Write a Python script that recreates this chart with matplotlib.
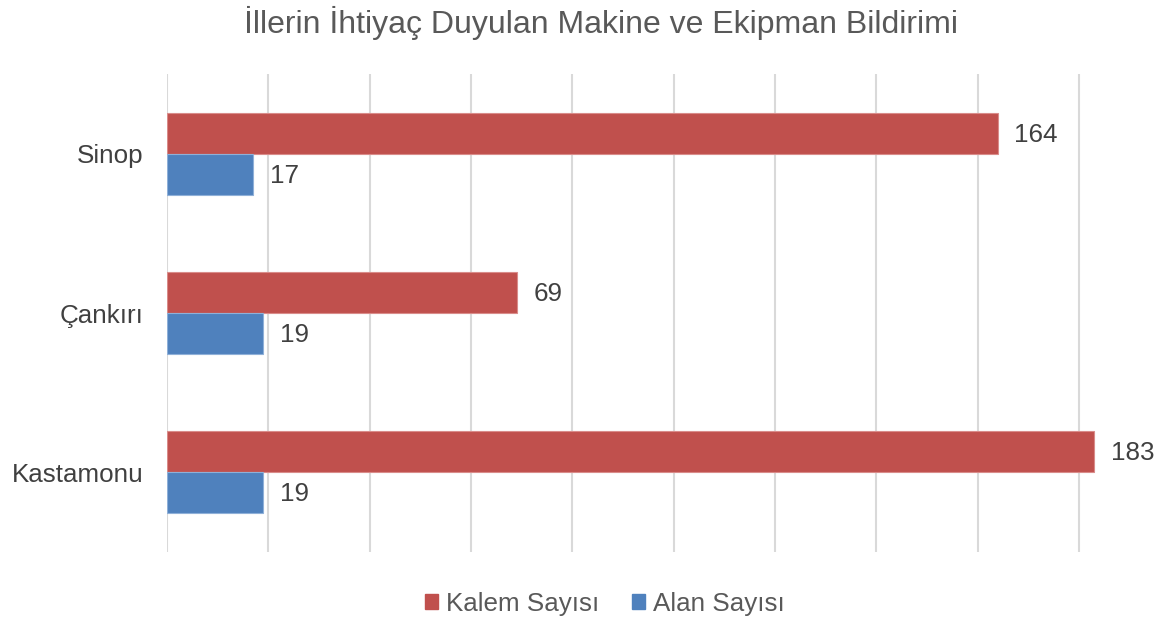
import matplotlib
matplotlib.use("Agg")
import matplotlib.pyplot as plt
from matplotlib.patches import Patch
import numpy as np

plt.rcParams['font.family'] = ['Liberation Sans', 'DejaVu Sans']

title = "İllerin İhtiyaç Duyulan Makine ve Ekipman Bildirimi"
categories = ["Kastamonu", "Çankırı", "Sinop"]
kalem = [183, 69, 164]
alan = [19, 19, 17]
series_names = ["Kalem Sayısı", "Alan Sayısı"]
grid_ticks = [0, 20, 40, 60, 80, 100, 120, 140, 160, 180]

RED = "#C0504D"
BLUE = "#4F81BD"
TXT = "#404040"
TXT2 = "#595959"

W, H = 1174, 619
fig = plt.figure(figsize=(W / 100, H / 100), dpi=100)
ax = fig.add_axes([167 / W, 1 - 552 / H, (W - 167) / W, (552 - 74) / H])

y = np.arange(len(categories))
h = 0.258
bk = ax.barh(y + h / 2, kalem, height=h, color=RED, edgecolor="#D98C8A", linewidth=0.8, zorder=3)
ba = ax.barh(y - h / 2, alan, height=h, color=BLUE, edgecolor="#8FB0D8", linewidth=0.8, zorder=3)

for vals, off in ((kalem, h / 2), (alan, -h / 2)):
    for yi, v in zip(y, vals):
        ax.annotate(str(v), (v, yi + off), xytext=(12, -1), textcoords="offset points",
                    ha="left", va="center", fontsize=18.7, color=TXT)

ax.set_xlim(0, (W - 167) / 5.066)
ax.set_ylim(-0.5, 2.5)
ax.set_xticks(grid_ticks)
ax.set_xticklabels([])
ax.set_yticks(y)
ax.set_yticklabels(categories, fontsize=18.7, color=TXT)
ax.tick_params(axis="both", length=0)
ax.tick_params(axis="y", pad=17)
ax.grid(axis="x", color="#D9D9D9", linewidth=1.5, zorder=0)
for s in ax.spines.values():
    s.set_visible(False)

fig.text(601 / W, 1 - 23 / H, title, ha="center", va="center", fontsize=23, color=TXT2)

handles = [Patch(facecolor=RED, edgecolor=RED), Patch(facecolor=BLUE, edgecolor=BLUE)]
fig.legend(handles, series_names, loc="center", bbox_to_anchor=(605 / W, 1 - 604 / H),
           ncol=2, frameon=False, fontsize=18.7, labelcolor=TXT2,
           handlelength=0.5, handleheight=0.5, handletextpad=0.3, columnspacing=1.25,
           borderpad=0, borderaxespad=0)

fig.savefig("out.png", dpi=100)
